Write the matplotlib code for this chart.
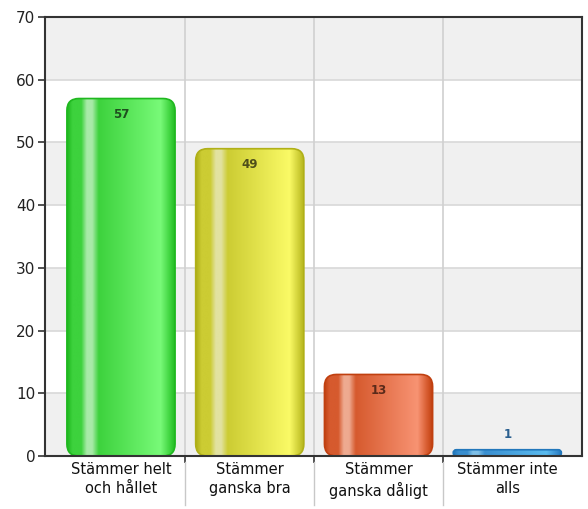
import matplotlib
matplotlib.use("Agg")
import matplotlib.pyplot as plt
import matplotlib.transforms as mtransforms
import numpy as np
from matplotlib.colors import to_rgb
from matplotlib.patches import FancyBboxPatch

# data
categories = ["Stämmer helt\noch hållet", "Stämmer\nganska bra",
              "Stämmer\nganska dåligt", "Stämmer inte\nalls"]
values = [57, 49, 13, 1]

# per-bar palette: edge, base, light, highlight, text
palettes = [
    ("#1fb81f", "#3dd23d", "#78fa78", "#a8eaa8", "#1f4f1f"),
    ("#b0b018", "#cccc33", "#fafa66", "#e2e2a0", "#4f4f1a"),
    ("#c04010", "#d65a2e", "#f89373", "#eeaa90", "#5a2a1a"),
    ("#2277bb", "#3a8fd0", "#5bbcf0", "#7fc0e8", "#2a5f8f"),
]

plt.rcParams["font.family"] = ["DejaVu Sans"]

fig = plt.figure(figsize=(5.88, 5.09), dpi=100, facecolor="white")
ax = fig.add_axes([45 / 588, 1 - 456 / 509, 537 / 588, 439 / 509])

ymax = 70
ax.set_ylim(0, ymax)
ax.set_xlim(-0.59, 3.58)

# alternating background bands
for lo in range(0, ymax, 10):
    color = "#f0f0f0" if (lo // 10) % 2 == 0 else "white"
    ax.axhspan(lo, lo + 10, color=color, zorder=0, lw=0)
for y in range(10, ymax, 10):
    ax.axhline(y, color="#d8d8d8", lw=1.2, zorder=1)
for b in [0.5, 1.5, 2.5]:
    ax.axvline(b, color="#d0d0d0", lw=1.2, zorder=1)

# pixel scale of the axes
fig.canvas.draw()
x0p, y0p = ax.transData.transform((0, 0))
x1p, y1p = ax.transData.transform((1, 1))
px_x = x1p - x0p
px_y = y1p - y0p

bar_w = 0.84


def gradient_row(edge, base, light, hi):
    stops = [(0.0, edge), (0.05, base), (0.13, base), (0.18, hi), (0.23, hi),
             (0.29, base), (0.86, light), (0.95, base), (1.0, edge)]
    xs = np.linspace(0, 1, 200)
    pos = [s[0] for s in stops]
    cols = np.array([to_rgb(s[1]) for s in stops])
    row = np.stack([np.interp(xs, pos, cols[:, k]) for k in range(3)], axis=-1)
    return row[None, :, :]


for i, (v, pal) in enumerate(zip(values, palettes)):
    edge, base, light, hi, tcol = pal
    h_px = v * px_y
    r_px = min(12, h_px / 2)
    r_x = r_px / px_x
    aspect = px_x / px_y
    patch = FancyBboxPatch(
        (i - bar_w / 2, 0), bar_w, v,
        boxstyle=f"round,pad=0,rounding_size={r_x}",
        mutation_aspect=aspect,
        facecolor="none", edgecolor=edge, lw=1.2, zorder=3,
    )
    ax.add_patch(patch)
    img = ax.imshow(gradient_row(edge, base, light, hi), aspect="auto",
                    extent=(i - bar_w / 2, i + bar_w / 2, 0, v),
                    zorder=2, interpolation="bilinear")
    img.set_clip_path(patch)

    if h_px > 30:
        off = -16
    else:
        off = 15
    ax.annotate(f"{v}", xy=(i, v), xytext=(0, off), textcoords="offset pixels",
                ha="center", va="center", fontsize=8.5, fontweight="bold",
                color=tcol, zorder=4)

ax.set_xlim(-0.59, 3.58)
ax.set_ylim(0, ymax)

# axes styling
for side in ["left", "bottom", "top", "right"]:
    ax.spines[side].set_color("#333333")
    ax.spines[side].set_linewidth(1.5)
    ax.spines[side].set_zorder(5)

ax.set_yticks(range(0, ymax + 1, 10))
ax.tick_params(axis="y", length=5, width=1.2, color="#333333",
               labelsize=11, labelcolor="#222222", pad=2)
ax.set_xticks(range(len(categories)))
ax.set_xticklabels(categories, fontsize=10.5, color="#111111", linespacing=1.4)
ax.tick_params(axis="x", which="major", length=0, pad=4)
ax.set_xticks([0.5, 1.5, 2.5], minor=True)
ax.tick_params(axis="x", which="minor", length=5, width=1.2, color="#333333")

# separator lines between category labels
trans = mtransforms.blended_transform_factory(ax.transData, ax.transAxes)
for b in [0.5, 1.5, 2.5]:
    ax.plot([b, b], [-0.014, -0.112], color="#c8c8c8", lw=1,
            transform=trans, clip_on=False)

fig.savefig("out.png", dpi=100, facecolor="white")
